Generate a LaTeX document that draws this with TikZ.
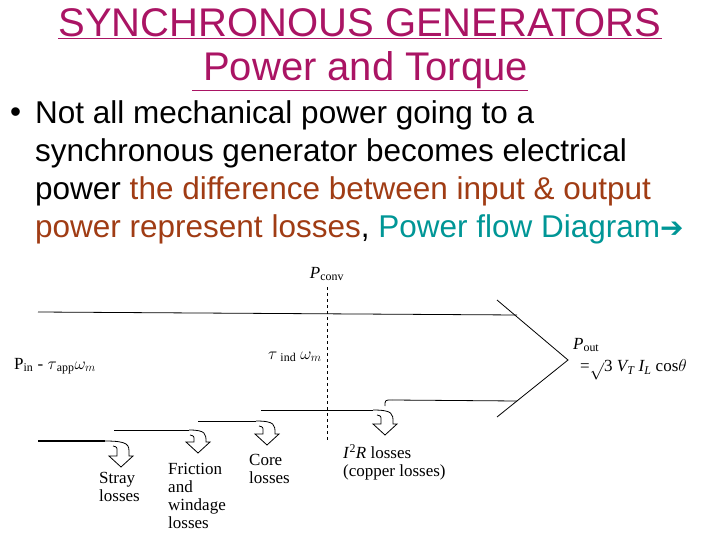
\documentclass[tikz,border=0pt]{standalone}
\usepackage{fontspec}
\setmainfont{Liberation Sans}
\newfontfamily\tms{Liberation Serif}
\newfontfamily\djvu{DejaVu Sans}
\definecolor{ttl}{RGB}{170,20,100}
\definecolor{brn}{RGB}{160,60,20}
\definecolor{tea}{RGB}{0,150,150}
\begin{document}
\begin{tikzpicture}[x=1pt,y=-1pt,
  ln/.style={line width=0.8pt},
  lbl/.style={font=\tms\fontsize{17}{18}\selectfont,align=left,inner sep=0},
  txt/.style={font=\fontsize{31.5}{38}\selectfont,anchor=west,inner sep=0}]
\useasboundingbox (0,0) rectangle (720,540);
\node[font=\fontsize{40}{40}\selectfont,text=ttl,inner sep=0] (t1) at (360,24) {\underline{SYNCHRONOUS GENERATORS}};
\node[font=\fontsize{40}{40}\selectfont,text=ttl,inner sep=0] (t2) at (360,71) {\underline{\ Power and Torque}};
\node[txt] (b0) at (10,115) {\textbullet};
\node[txt] (b1) at (35,115) {Not all mechanical power going to a};
\node[txt] (b2) at (35,153) {synchronous generator becomes electrical};
\node[txt] (b3) at (35,191) {power \textcolor{brn}{the difference between input \& output}};
\node[txt] (b4) at (35,229) {\textcolor{brn}{power represent losses}, \textcolor{tea}{Power flow Diagram{\djvu\fontsize{28}{28}\selectfont ➔}}};
% flow lines
\coordinate (a) at (38,312); \coordinate (ae) at (517,315);
\draw[ln] (a) -- (ae);
\draw[ln] (497,300) -- (568,360) -- (497,417);
\draw[ln] (392,400) -- (517,401);
\draw[ln,dashed] (327,287) -- (327,442);
\draw[line width=1.3pt] (38,441) -- (105,441);
\draw[ln] (114,430) -- (189,430);
\draw[ln] (198,421) -- (256,421);
\draw[ln] (261,410) -- (373,410);
% hooks: line end e, line y, tip x, tip y
\foreach \e/\y/\tx/\ty in {105/441/121/467, 189/430/198/453, 256/421/267/445, 373/410/385/435}{
 \draw[ln] (\e,\y) .. controls (\tx+8,\y) and (\tx+8,\y+4) .. (\tx+8,\y+12) -- (\tx+8,\ty-11)
   -- (\tx+12,\ty-11) -- (\tx,\ty) -- (\tx-12,\ty-11) -- (\tx-4,\ty-11) -- (\tx-4,\y+10)
   .. controls (\tx-4,\y+6) .. (\tx-8,\y+5);
}
\draw[ln] (392,400) .. controls (385,400) .. (385,406);
\node[lbl] (pc) at (327,274) {\textit{P}\textsubscript{conv}};
\node[lbl] (ti) at (295,357) {$\tau$\textsubscript{ ind} $\omega_m$};
\node[lbl] (pin) at (55,366) {P\textsubscript{in} - $\tau$\textsubscript{app}$\omega_m$};
\node[lbl,anchor=west] (po) at (573,345) {\textit{P}\textsubscript{out}};
\node[lbl,anchor=west] (po2) at (580,370) {=$\sqrt{}$3 \textit{V\textsubscript{T}} \textit{I\textsubscript{L}} cos$\theta$};
\node[lbl,anchor=north west] (s) at (99,472) {Stray\\losses};
\node[lbl,anchor=north west] (f) at (168,463) {Friction\\and\\windage\\losses};
\node[lbl,anchor=north west] (c) at (249,454) {Core\\losses};
\node[lbl,anchor=north west] (cu) at (343,444) {\textit{I}\textsuperscript{2}\textit{R} losses\\(copper losses)};
\end{tikzpicture}
\end{document}
